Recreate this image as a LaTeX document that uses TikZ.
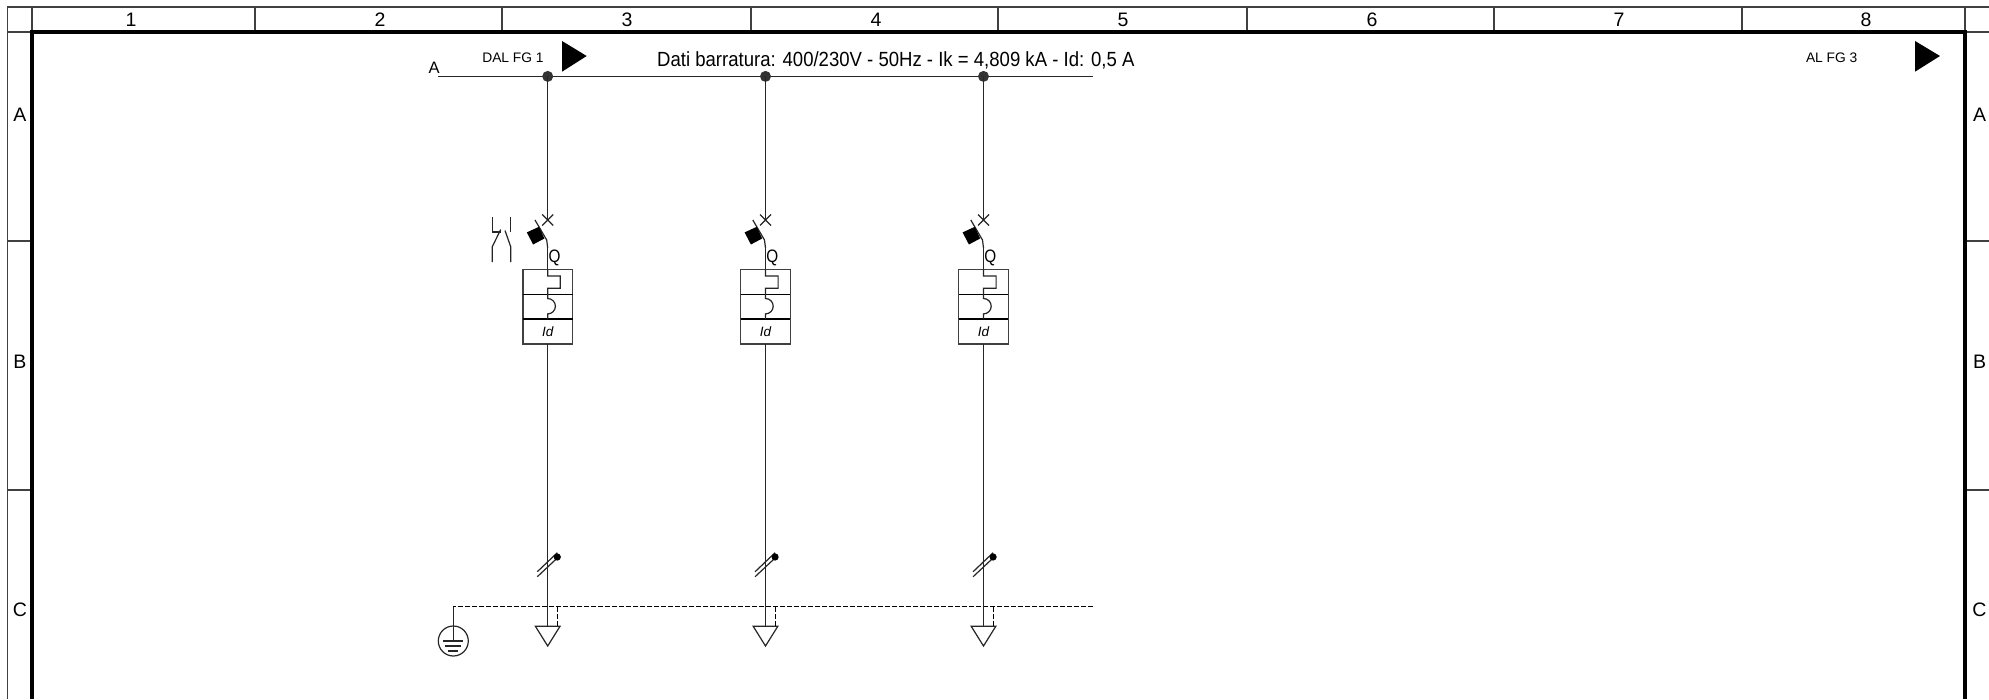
\documentclass[tikz,border=0pt]{standalone}
\usepackage{fontspec}
\setmainfont{Liberation Sans}
\begin{document}
\begin{tikzpicture}[x=1pt,y=-1pt,
  thinl/.style={line width=1.2pt,draw=black!85},
  framel/.style={line width=4.6pt,draw=black},
  gridl/.style={line width=1.2pt,draw=black!75},
  dashl/.style={line width=1.2pt,draw=black,dash pattern=on 5pt off 2pt},
  lab/.style={inner sep=0pt,font=\fontsize{19.5}{21}\selectfont},
  small/.style={inner sep=0pt,font=\fontsize{13.8}{15}\selectfont},
  cell/.style={draw=black!75,line width=1.2pt,minimum width=49.6pt,inner sep=0pt,outer sep=0pt},
  arrowmark/.style={fill=black,draw=none}]
\useasboundingbox (0,0) rectangle (1989,699);
\fill[white] (0,0) rectangle (1989,699);
% sheet border
\draw[gridl] (1989,7) -- (7.5,7) -- (7.5,699);
\draw[gridl] (7.5,32) -- (32,32);
\foreach \x in {255,502,751,998,1247,1494,1742} \draw[gridl] (\x,7) -- (\x,32);
\draw[gridl] (32,7) -- (32,32);
\draw[gridl] (1965,7) -- (1965,32) -- (1989,32);
\foreach \y in {241,490} {
  \draw[gridl] (7.5,\y) -- (32,\y);
  \draw[gridl] (1965,\y) -- (1989,\y);
}
\draw[framel] (32,699) -- (32,32) -- (1965,32) -- (1965,699);
\foreach \n/\x in {1/131,2/380,3/627,4/876,5/1123,6/1372,7/1619,8/1866}
  \node[lab] (col\n) at (\x,20) {\n};
\foreach \n/\y in {A/115,B/362,C/610} {
  \node[lab] (l\n) at (20,\y) {\n};
  \node[lab] (r\n) at (1979.5,\y) {\n};
}
% busbar
\coordinate (busW) at (438,76.4);
\coordinate (busE) at (1093,76.4);
\draw[thinl] (busW) -- (busE);
\node[inner sep=0pt,font=\fontsize{16.5}{18}\selectfont] (busA) at (434,67.5) {A};
\node[small] (dal) at (513,57.5) {DAL FG 1};
\node[small] (alfg) at (1831.7,57.5) {AL FG 3};
\fill[arrowmark] (562,41) -- (586.7,56) -- (562,71.7) -- cycle;
\fill[arrowmark] (1915,41) -- (1940,56) -- (1915,71.7) -- cycle;
\node[inner sep=0pt,anchor=west,xscale=0.905,font=\fontsize{20.5}{22}\selectfont] (dati) at (657,60.5) {Dati barratura: 400/230V - 50Hz - Ik = 4,809 kA - Id: 0,5 A};
% earth bus
\coordinate (pe0) at (453.3,606.7);
\coordinate (peE) at (1093,606.7);
\draw[dashl] (peE) -- (pe0);
\node[circle,draw=black!85,line width=1.2pt,minimum size=30pt,inner sep=0pt] (earth) at (453.3,641) {};
\draw[thinl] (pe0) -- (earth.center);
\draw[line width=1.1pt,black!85] (443.3,641) -- (463.3,641);
\draw[line width=1.1pt,black!85] (445.3,646) -- (461.3,646);
\draw[line width=1.1pt,black!85] (448.3,651) -- (458.3,651);
% feeders
\foreach \i/\x in {1/547.7,2/765.5,3/983.5} {
\begin{scope}[shift={(\x,0)}]
  \coordinate (tap\i) at (0,76.4);
  \fill[black!80] (tap\i) circle (5.5pt);
  \coordinate (sw\i) at (0,220);
  \draw[thinl] (tap\i) -- (sw\i);
  \draw[thinl] (-5.5,214.5) -- (5.5,225.5) (-5.5,225.5) -- (5.5,214.5);
  % switch blade and black square
  \draw[thinl] (0,248) -- (-1,240) -- (-12.7,220);
  \fill[black] (-20.9,232.4) -- (-8.7,226.8) -- (-3.3,238.5) -- (-14.6,244.5) -- cycle;
  \coordinate (boxtop\i) at (0,269.3);
  \draw[thinl] (0,248) -- (boxtop\i);
  \node[inner sep=0pt,xscale=.85,font=\fontsize{18}{20}\selectfont] (q\i) at (6.8,258) {Q};
  % protection block
  \node[cell,minimum height=24.8pt] (magn\i) at (0,281.7) {};
  \node[cell,minimum height=24.7pt] (therm\i) at (0,306.6) {};
  \node[cell,minimum height=25pt,font=\itshape\fontsize{13.5}{15}\selectfont] (id\i) at (0,331.5) {Id};
  \draw[line width=1.7pt,black] (id\i.north west) -- (id\i.north east);
  \draw[line width=1.2pt,black] (therm\i.north west) -- (therm\i.north east);
  \draw[thinl] (0,269.3) -- (0,276) -- (12.6,276) -- (12.6,288.3) -- (0,288.3) -- (0,298.5) arc[start angle=90,end angle=-90,radius=7.7pt] -- (0,319);
  % outgoing line
  \coordinate (load\i) at (0,626.3);
  \draw[thinl] (id\i.south) -- (load\i);
  \draw[thinl] (-12.3,626.3) -- (12.3,626.3) -- (0,646) -- cycle;
  \draw[thinl] (-10.4,571.7) -- (9.6,552.7) (-10.4,576.7) -- (9.6,558);
  \fill[black] (9.6,557) circle (3.6pt);
  \coordinate (drop\i) at (9.6,606.7);
  \draw[dashl] (drop\i) -- (9.6,626.3);
\end{scope}
}
% auxiliary contact
\draw[thinl] (492.3,217) -- (492.3,232) -- (500.7,232);
\draw[thinl] (500.7,229.5) -- (492.3,246.7) -- (492.3,262);
\draw[thinl] (510.7,217) -- (510.7,232);
\draw[thinl] (505,230.5) -- (510.7,246.7) -- (510.7,262);
\end{tikzpicture}
\end{document}
